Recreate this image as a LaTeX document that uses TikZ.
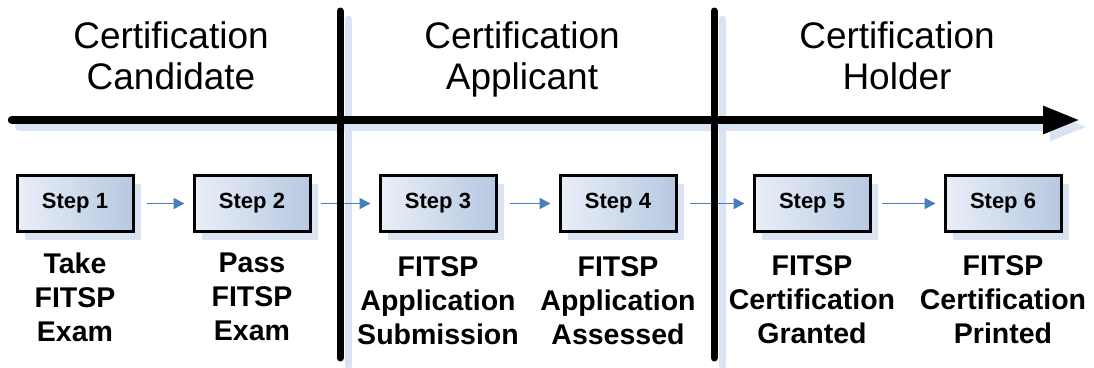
\documentclass[tikz,border=0pt]{standalone}
\usepackage{fontspec}
\setmainfont{Liberation Sans}
\usetikzlibrary{arrows.meta,shadows}
\definecolor{shadowblue}{HTML}{DAE3F1}
\definecolor{stepleft}{HTML}{EAEFF8}
\definecolor{stepright}{HTML}{B6C8E1}
\definecolor{flowblue}{HTML}{4A7EBB}
\begin{document}
\begin{tikzpicture}[
		x=1pt, y=-1pt,
		phase/.style={font=\fontsize{37}{41}\selectfont, align=center, anchor=north, inner sep=0pt},
		stepbox/.style={draw=black, line width=3pt, minimum width=116pt, minimum height=56pt,
			left color=stepleft, right color=stepright, font=\fontsize{22}{26}\selectfont\bfseries,
			drop shadow={shadow xshift=8pt, shadow yshift=-8pt, fill=shadowblue, opacity=1}},
		stepinfo/.style={font=\fontsize{28.5}{34}\selectfont\bfseries, align=center, anchor=north, inner sep=0pt},
		flow/.style={->, draw=flowblue, line width=1.8pt, shorten <=12pt, shorten >=8pt,
			>={Triangle[length=11pt,width=11pt]}},
		divider/.style={line width=7pt, line cap=round},
		timeaxis/.style={line width=8.5pt, line cap=round, -{Triangle[length=37pt,width=26pt]}},
		shadowline/.style={draw=shadowblue}
		]
		
		\useasboundingbox (0,0) rectangle (1094,367);
		
		% Axis and divider end points
		\coordinate (axisL) at (12,120);
		\coordinate (axisR) at (1080,120);
		\coordinate (divAtop) at (340,11);
		\coordinate (divAbot) at (340,358);
		\coordinate (divBtop) at (714,11);
		\coordinate (divBbot) at (714,358);
		
		% Shadows of the lines
		\draw[divider, shadowline] ([shift={(8,8)}]divAtop) -- ([shift={(8,8)}]divAbot);
		\draw[divider, shadowline] ([shift={(8,8)}]divBtop) -- ([shift={(8,8)}]divBbot);
		\draw[timeaxis, shadowline] ([shift={(7,7)}]axisL) -- ([shift={(7,7)}]axisR);
		
		% Phases
		\node[phase] (candidate) at (171,21) {Certification\\Candidate};
		\node[phase] (applicant) at (522,21) {Certification\\Applicant};
		\node[phase] (holder) at (897,21) {Certification\\Holder};
		
		% Steps
		\node[stepbox] (step1) at (75,203.5) {Step 1};
		\node[stepbox] (step2) at (252,203.5) {Step 2};
		\node[stepbox] (step3) at (438,203.5) {Step 3};
		\node[stepbox] (step4) at (618,203.5) {Step 4};
		\node[stepbox] (step5) at (812,203.5) {Step 5};
		\node[stepbox] (step6) at (1003,203.5) {Step 6};
		
		% Flow between steps
		\draw[flow] (step1) -- (step2);
		\draw[flow, shorten <=9pt] (step2) -- (step3);
		\draw[flow] (step3) -- (step4);
		\draw[flow] (step4) -- (step5);
		\draw[flow, shorten <=10pt] (step5) -- (step6);
		
		% What each step means
		\node[stepinfo] (info1) at (75,253) {Take\\FITSP\\Exam};
		\node[stepinfo] (info2) at (252,253) {Pass\\FITSP\\Exam};
		\node[stepinfo] (info3) at (438,256) {FITSP\\Application\\Submission};
		\node[stepinfo] (info4) at (618,256) {FITSP\\Application\\Assessed};
		\node[stepinfo] (info5) at (812,255) {FITSP\\Certification\\Granted};
		\node[stepinfo] (info6) at (1003,255) {FITSP\\Certification\\Printed};
		
		% Lines
		\draw[divider] (divAtop) -- (divAbot);
		\draw[divider] (divBtop) -- (divBbot);
		\draw[timeaxis] (axisL) -- (axisR);
		
	\end{tikzpicture}
\end{document}
